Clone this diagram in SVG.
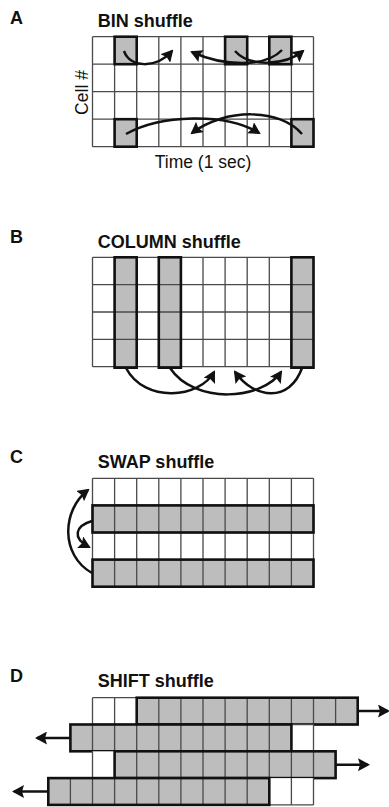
<svg xmlns="http://www.w3.org/2000/svg" width="389" height="807" viewBox="0 0 389 807">
<style>
.lbl{font-family:"Liberation Sans",Arial,sans-serif;font-weight:bold;font-size:18px;fill:#111}
.ttl{font-family:"Liberation Sans",Arial,sans-serif;font-weight:bold;font-size:18px;fill:#111}
.ax{font-family:"Liberation Sans",Arial,sans-serif;font-size:17.5px;fill:#111}
.bg{fill:#fff}
.sh{fill:#bdbdbd}
.thin{fill:none;stroke:#4a4a4a;stroke-width:1.3}
.thick{fill:none;stroke:#111;stroke-width:2.6}
.arr{fill:none;stroke:#111;stroke-width:2.5;marker-end:url(#ah)}
</style>
<defs>
<marker id="ah" viewBox="0 0 12 13" refX="10" refY="6.5" markerWidth="12" markerHeight="13" markerUnits="userSpaceOnUse" orient="auto">
<path d="M0,0 L12,6.5 L0,13 L2,6.5 z" fill="#111"/>
</marker>
</defs>
<rect width="389" height="807" fill="#fff"/>

<!-- Panel A -->
<g id="panelA">
<text class="lbl" x="10" y="24">A</text>
<text class="ttl" x="97.7" y="27.3">BIN shuffle</text>
<text class="ax" transform="translate(88,92.5) rotate(-90)" text-anchor="middle">Cell #</text>
<text class="ax" x="203" y="168" text-anchor="middle">Time (1 sec)</text>
<rect class="bg" x="92.5" y="36.7" width="221" height="110"/>
<g class="sh">
<rect x="114.6" y="36.7" width="22.1" height="27.5"/>
<rect x="225.1" y="36.7" width="22.1" height="27.5"/>
<rect x="269.3" y="36.7" width="22.1" height="27.5"/>
<rect x="114.6" y="119.2" width="22.1" height="27.5"/>
<rect x="291.4" y="119.2" width="22.1" height="27.5"/>
</g>
<path class="thin" d="M92.5,36.7V146.7M114.6,36.7V146.7M136.7,36.7V146.7M158.8,36.7V146.7M180.9,36.7V146.7M203,36.7V146.7M225.1,36.7V146.7M247.2,36.7V146.7M269.3,36.7V146.7M291.4,36.7V146.7M313.5,36.7V146.7M92.5,36.7H313.5M92.5,64.2H313.5M92.5,91.7H313.5M92.5,119.2H313.5M92.5,146.7H313.5"/>
<g class="thick">
<rect x="114.6" y="36.7" width="22.1" height="27.5"/>
<rect x="225.1" y="36.7" width="22.1" height="27.5"/>
<rect x="269.3" y="36.7" width="22.1" height="27.5"/>
<rect x="114.6" y="119.2" width="22.1" height="27.5"/>
<rect x="291.4" y="119.2" width="22.1" height="27.5"/>
</g>
</g>

<!-- Panel B -->
<g id="panelB">
<text class="lbl" x="10" y="243.3">B</text>
<text class="ttl" x="97.7" y="248.3">COLUMN shuffle</text>
<rect class="bg" x="92.5" y="257.3" width="221" height="109.4"/>
<g class="sh">
<rect x="114.6" y="257.3" width="22.1" height="109.4"/>
<rect x="158.8" y="257.3" width="22.1" height="109.4"/>
<rect x="291.4" y="257.3" width="22.1" height="109.4"/>
</g>
<path class="thin" d="M92.5,257.3V366.7M114.6,257.3V366.7M136.7,257.3V366.7M158.8,257.3V366.7M180.9,257.3V366.7M203,257.3V366.7M225.1,257.3V366.7M247.2,257.3V366.7M269.3,257.3V366.7M291.4,257.3V366.7M313.5,257.3V366.7M92.5,257.3H313.5M92.5,284.65H313.5M92.5,312H313.5M92.5,339.35H313.5M92.5,366.7H313.5"/>
<g class="thick">
<rect x="114.6" y="257.3" width="22.1" height="110.4"/>
<rect x="158.8" y="257.3" width="22.1" height="110.4"/>
<rect x="291.4" y="257.3" width="22.1" height="110.4"/>
</g>
</g>

<!-- Panel C -->
<g id="panelC">
<text class="lbl" x="10" y="463.3">C</text>
<text class="ttl" x="97.7" y="468.3">SWAP shuffle</text>
<rect class="bg" x="92.5" y="478.3" width="221" height="108.4"/>
<g class="sh">
<rect x="92.5" y="505.4" width="221" height="27.1"/>
<rect x="92.5" y="559.6" width="221" height="27.1"/>
</g>
<path class="thin" d="M92.5,478.3V586.7M114.6,478.3V586.7M136.7,478.3V586.7M158.8,478.3V586.7M180.9,478.3V586.7M203,478.3V586.7M225.1,478.3V586.7M247.2,478.3V586.7M269.3,478.3V586.7M291.4,478.3V586.7M313.5,478.3V586.7M92.5,478.3H313.5M92.5,505.4H313.5M92.5,532.5H313.5M92.5,559.6H313.5M92.5,586.7H313.5"/>
<g class="thick">
<rect x="92.5" y="505.4" width="221" height="27.1"/>
<rect x="92.5" y="559.6" width="221" height="27.1"/>
</g>
</g>

<!-- Panel D -->
<g id="panelD">
<text class="lbl" x="10" y="681.7">D</text>
<text class="ttl" x="97.7" y="687.3">SHIFT shuffle</text>
<g id="d-row0">
<rect class="bg" x="92.5" y="697.7" width="44.2" height="26.8"/>
<rect class="sh" x="136.7" y="697.7" width="221" height="26.8"/>
<path class="thin" d="M92.5,697.7H357.7M92.5,724.5H357.7M92.5,697.7V724.5M114.6,697.7V724.5M136.7,697.7V724.5M158.8,697.7V724.5M180.9,697.7V724.5M203,697.7V724.5M225.1,697.7V724.5M247.2,697.7V724.5M269.3,697.7V724.5M291.4,697.7V724.5M313.5,697.7V724.5M335.6,697.7V724.5"/>
<rect class="thick" x="136.7" y="697.7" width="221" height="26.8"/>
</g>
<g id="d-row1">
<rect class="sh" x="70.4" y="724.5" width="221" height="26.8"/>
<rect class="bg" x="291.4" y="724.5" width="22.1" height="26.8"/>
<path class="thin" d="M70.4,751.3H313.5M92.5,724.5V751.3M114.6,724.5V751.3M136.7,724.5V751.3M158.8,724.5V751.3M180.9,724.5V751.3M203,724.5V751.3M225.1,724.5V751.3M247.2,724.5V751.3M269.3,724.5V751.3M313.5,724.5V751.3M291.4,724.5H313.5"/>
<rect class="thick" x="70.4" y="724.5" width="221" height="26.8"/>
</g>
<g id="d-row2">
<rect class="bg" x="92.5" y="751.3" width="22.1" height="26.8"/>
<rect class="sh" x="114.6" y="751.3" width="221" height="26.8"/>
<path class="thin" d="M92.5,751.3V778.1M92.5,778.1H335.6M136.7,751.3V778.1M158.8,751.3V778.1M180.9,751.3V778.1M203,751.3V778.1M225.1,751.3V778.1M247.2,751.3V778.1M269.3,751.3V778.1M291.4,751.3V778.1M313.5,751.3V778.1"/>
<rect class="thick" x="114.6" y="751.3" width="221" height="26.8"/>
</g>
<g id="d-row3">
<rect class="sh" x="48.3" y="778.1" width="221" height="26.8"/>
<rect class="bg" x="269.3" y="778.1" width="44.2" height="26.8"/>
<path class="thin" d="M269.3,804.9H313.5M70.4,778.1V804.9M92.5,778.1V804.9M114.6,778.1V804.9M136.7,778.1V804.9M158.8,778.1V804.9M180.9,778.1V804.9M203,778.1V804.9M225.1,778.1V804.9M247.2,778.1V804.9M291.4,778.1V804.9M313.5,778.1V804.9"/>
<rect class="thick" x="48.3" y="778.1" width="221" height="26.8"/>
</g>
</g>

<!-- Connectors -->
<g id="connectors">
<path class="arr" d="M124,51 C130,68 156,69 172,51"/>
<path class="arr" d="M282,50 C266,67 225,67 192,52"/>
<path class="arr" d="M235,51 C250,68 286,65 303,51"/>
<path class="arr" d="M126,134 C160,115 225,112 259,133"/>
<path class="arr" d="M302,134 C280,108 225,108 192,133"/>
<path class="arr" d="M126,368 C145,404 200,398 214,372"/>
<path class="arr" d="M170,368 C195,405 262,400 281,372"/>
<path class="arr" d="M302,368 C290,402 255,400 235,372"/>
<path class="arr" d="M92,573 C60,555 62,510 88,490"/>
<path class="arr" d="M92,521 C75,526 72,538 89,547"/>
<path class="arr" d="M357.7,711 H388"/>
<path class="arr" d="M70.4,738 H37"/>
<path class="arr" d="M335.6,764.7 H368"/>
<path class="arr" d="M48.3,791.5 H14"/>
</g>
</svg>
